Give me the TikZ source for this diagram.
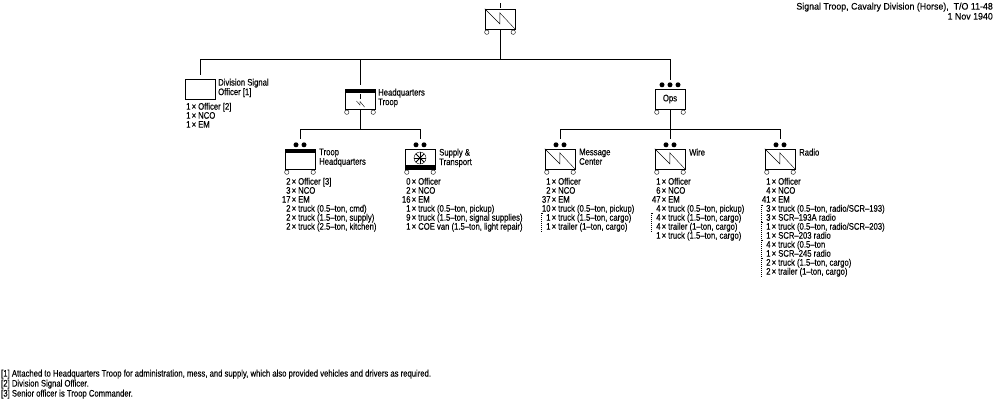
\documentclass[tikz,border=0pt]{standalone}
\usepackage{fontspec}
\setmainfont[FakeStretch=0.81,FakeBold=0.12]{Liberation Sans}
\newfontfamily\titlefont[FakeStretch=0.93,FakeBold=0.12]{Liberation Sans}
\usepackage{tikz}
\tikzset{font=\fontsize{9.5}{9}\selectfont, line width=1pt}
\tikzset{unit/.style={rectangle,draw,inner sep=0,minimum width=30pt,minimum height=20pt},
  namelabel/.style={anchor=north west,inner sep=0,align=left,font=\fontsize{9.5}{9.5}\selectfont},
  tally/.style={anchor=north west,inner sep=0,align=left},
  link/.style={shorten >=#1},
  link/.default=0pt,
  bracket/.style={line width=1pt,dash pattern=on 1pt off 1pt}}
\newcommand{\wheels}[1]{\draw (#1.south west) ++(2,3) circle (2.2pt);
  \draw (#1.south east) ++(-2,3) circle (2.2pt);}
\newcommand{\zigzag}[1]{\draw (#1.north west) -- ++(15,15) -- ++(0,-11) -- (#1.south east);}
\newcommand{\rankdots}[2]{\foreach \dx in {#2} \fill (#1.north) ++(\dx,-4) circle (2.5pt);}
\newcommand{\dotbracket}[3]{\draw[bracket] (#1+2,#2) -- (#1,#2) -- (#1,#3) -- (#1+2,#3);}
\newcommand{\row}[2]{\makebox[12pt][r]{\rule{0pt}{7pt}#1\kern1.2pt×}\hspace{2pt}#2}

\begin{document}
\begin{tikzpicture}[x=1pt,y=-1pt]
\useasboundingbox (0,0) rectangle (1000,400);
%units
\path (500,19) node(signal_troop) [unit] {}
(200,89) node(div_officer) [unit] {}
(360,99) node(hq_troop) [unit] {}
(670,99) node(ops) [unit] {Ops}
(300,159) node(troop_hq) [unit] {}
(420,159) node(supply) [unit] {}
(560,159) node(message) [unit] {}
(670,159) node(wire) [unit] {}
(780,159) node(radio) [unit] {};

%names beside the units
\path (218,78.5) node(div_officer_name) [namelabel] {Division Signal\\Officer [1]}
(378,88.5) node(hq_troop_name) [namelabel] {Headquarters\\Troop}
(319,148.5) node(troop_hq_name) [namelabel] {Troop\\Headquarters}
(439,148.5) node(supply_name) [namelabel] {Supply \&\\Transport}
(579,148.5) node(message_name) [namelabel] {Message\\Center}
(689,148.5) node(wire_name) [namelabel] {Wire}
(799,148.5) node(radio_name) [namelabel] {Radio};

%strengths
\path (184,102.5) node(div_officer_list) [tally] {\row{1}{Officer [2]}\\\row{1}{NCO}\\\row{1}{EM}}
(284,177.5) node(troop_hq_list) [tally] {\row{2}{Officer [3]}\\\row{3}{NCO}\\\row{17}{EM}\\\row{2}{truck (0.5--ton, cmd)}\\\row{2}{truck (1.5--ton, supply)}\\\row{2}{truck (2.5--ton, kitchen)}}
(404,177.5) node(supply_list) [tally] {\row{0}{Officer}\\\row{2}{NCO}\\\row{16}{EM}\\\row{1}{truck (0.5--ton, pickup)}\\\row{9}{truck (1.5--ton, signal supplies)}\\\row{1}{COE van (1.5--ton, light repair)}}
(544,177.5) node(message_list) [tally] {\row{1}{Officer}\\\row{2}{NCO}\\\row{37}{EM}\\\row{10}{truck (0.5--ton, pickup)}\\\row{1}{truck (1.5--ton, cargo)}\\\row{1}{trailer (1--ton, cargo)}}
(654,177.5) node(wire_list) [tally] {\row{1}{Officer}\\\row{6}{NCO}\\\row{47}{EM}\\\row{4}{truck (0.5--ton, pickup)}\\\row{4}{truck (1.5--ton, cargo)}\\\row{4}{trailer (1--ton, cargo)}\\\row{1}{truck (1.5--ton, cargo)}}
(764,177.5) node(radio_list) [tally] {\row{1}{Officer}\\\row{4}{NCO}\\\row{41}{EM}\\\row{3}{truck (0.5--ton, radio/SCR--193)}\\\row{3}{SCR--193A radio}\\\row{1}{truck (0.5--ton, radio/SCR--203)}\\\row{1}{SCR--203 radio}\\\row{4}{truck (0.5--ton}\\\row{1}{SCR--245 radio}\\\row{2}{truck (1.5--ton, cargo)}\\\row{2}{trailer (1--ton, cargo)}};

%title and notes
\path (993,2.5) node(title) [anchor=north east,inner sep=0,align=right,font=\titlefont\fontsize{9.5}{10}\selectfont] {Signal Troop, Cavalry Division (Horse),\ \ T/O 11-48\\1 Nov 1940}
(1,369.5) node(notes) [anchor=north west,inner sep=0,align=left,font=\fontsize{9.5}{10}\selectfont] {[1] Attached to Headquarters Troop for administration, mess, and supply, which also provided vehicles and drivers as required.\\{[2]} Division Signal Officer.\\{[3]} Senior officer is Troop Commander.};

%joints of the lines
\coordinate (top_stub) at (500,3);
\coordinate (bus_main) at (500,59);
\coordinate (bus_left) at (200,59);
\coordinate (bus_hq) at (360,59);
\coordinate (bus_right) at (670,59);
\coordinate (bus_hq_mid) at (360,129);
\coordinate (bus_hq_left) at (300,129);
\coordinate (bus_hq_right) at (420,129);
\coordinate (bus_ops_mid) at (670,129);
\coordinate (bus_ops_left) at (560,129);
\coordinate (bus_ops_right) at (780,129);

\draw (top_stub) -- ([yshift=1pt]signal_troop.north) ;
\draw (signal_troop) -- (bus_main);
\draw (bus_left) -- (bus_right);
\draw[link=4pt] (bus_left) -- (div_officer);
\draw[link=4pt] (bus_hq) -- (hq_troop);
\draw[link=9pt] (bus_right) -- (ops);
\draw (hq_troop.south) -- (bus_hq_mid);
\draw (bus_hq_left) -- (bus_hq_right);
\draw[link=10pt] (bus_hq_left) -- (troop_hq);
\draw[link=10pt] (bus_hq_right) -- (supply);
\draw (ops.south) -- (bus_ops_mid);
\draw (bus_ops_left) -- (bus_ops_right);
\draw[link=10pt] (bus_ops_left) -- (message);
\draw[link=10pt] (bus_ops_mid) -- (wire);
\draw[link=10pt] (bus_ops_right) -- (radio);

\wheels{signal_troop} \wheels{hq_troop} \wheels{ops} \wheels{troop_hq}
\wheels{supply} \wheels{message} \wheels{wire} \wheels{radio}
\zigzag{signal_troop} \zigzag{message} \zigzag{wire} \zigzag{radio}
\rankdots{troop_hq}{-4,4} \rankdots{supply}{-4,4} \rankdots{message}{-4,4}
\rankdots{wire}{-4,4} \rankdots{radio}{-4,4} \rankdots{ops}{-8,0,8}

\fill (hq_troop.north west) rectangle ++(30,4);
\fill (troop_hq.north west) rectangle ++(30,4);
\fill (supply.south west) rectangle ++(30,-4);

%small zigzag in the headquarters box
\draw (360,94) -- (360,99);
\draw (356.5,101) -- (360,105) -- (360,101.5) -- (364.5,107);

%wheel in the supply box
\draw (supply.center) ++(0,-1) circle (6pt);
\foreach \a in {0,45,90,135} \draw[line width=0.8pt] (supply.center) ++(0,-1) ++(\a:6pt) -- ++(\a+180:12pt);

\dotbracket{541}{213}{231}
\dotbracket{651}{213}{231}
\dotbracket{761}{205}{222}
\dotbracket{761}{222}{240}
\dotbracket{761}{240}{258}
\dotbracket{761}{258}{276}
\end{tikzpicture}
\end{document}
